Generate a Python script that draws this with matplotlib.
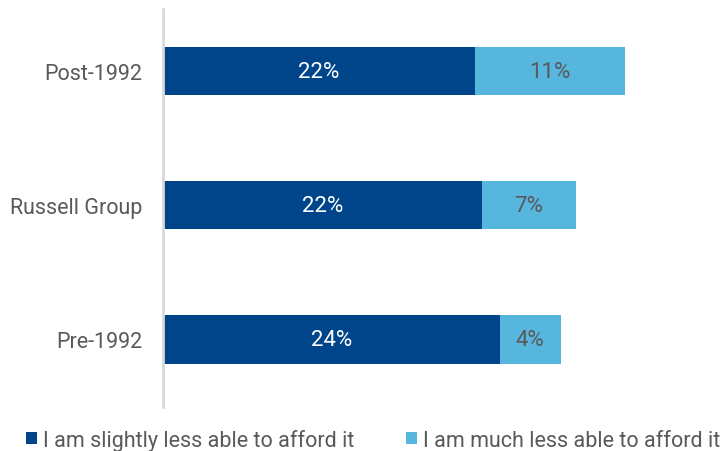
import matplotlib
matplotlib.use("Agg")
import matplotlib.pyplot as plt
from matplotlib import font_manager

categories = ["Pre-1992", "Russell Group", "Post-1992"]
slightly = [23.9, 22.6, 22.1]
much = [4.3, 6.7, 10.7]
slightly_labels = ["24%", "22%", "22%"]
much_labels = ["4%", "7%", "11%"]
series_names = ["I am slightly less able to afford it", "I am much less able to afford it"]

names = {f.name for f in font_manager.fontManager.ttflist}
fam = ["Liberation Sans Narrow"] if "Liberation Sans Narrow" in names else ["Roboto"]
plt.rcParams['font.family'] = fam + ["DejaVu Sans"]

dark = "#00458A"
light = "#57B6DD"
gray = "#595959"

fig = plt.figure(figsize=(7.25, 4.52), dpi=100)
ax = fig.add_axes([163/725, 44/452, 562/725, 398/452])
y = list(range(len(categories)))
h = 0.36
b1 = ax.barh(y, slightly, height=h, color=dark, label=series_names[0])
b2 = ax.barh(y, much, left=slightly, height=h, color=light, label=series_names[1])
for i in y:
    ax.text(slightly[i]/2, i, slightly_labels[i], ha='center', va='center', color='white', fontsize=16)
    ax.text(slightly[i] + much[i]/2, i, much_labels[i], ha='center', va='center', color=gray, fontsize=16)

ax.set_xlim(0, 39.86)
ax.set_ylim(-0.503, 2.462)
ax.set_yticks(y)
ax.set_yticklabels(categories, fontsize=15.5, color=gray)
ax.tick_params(axis='y', length=0, pad=15)
ax.set_xticks([])
for s in ['top', 'right', 'bottom']:
    ax.spines[s].set_visible(False)
ax.spines['left'].set_color('#D9D9D9')
ax.spines['left'].set_linewidth(2)

leg = fig.legend(handles=[b1, b2], loc='center left', bbox_to_anchor=(26/725, 11/452),
                 ncol=2, frameon=False, fontsize=15.5, handlelength=0.5, handleheight=0.5,
                 handletextpad=0.3, columnspacing=2.4, borderpad=0, borderaxespad=0)
for t in leg.get_texts():
    t.set_color(gray)

fig.savefig("out.png", dpi=100)
